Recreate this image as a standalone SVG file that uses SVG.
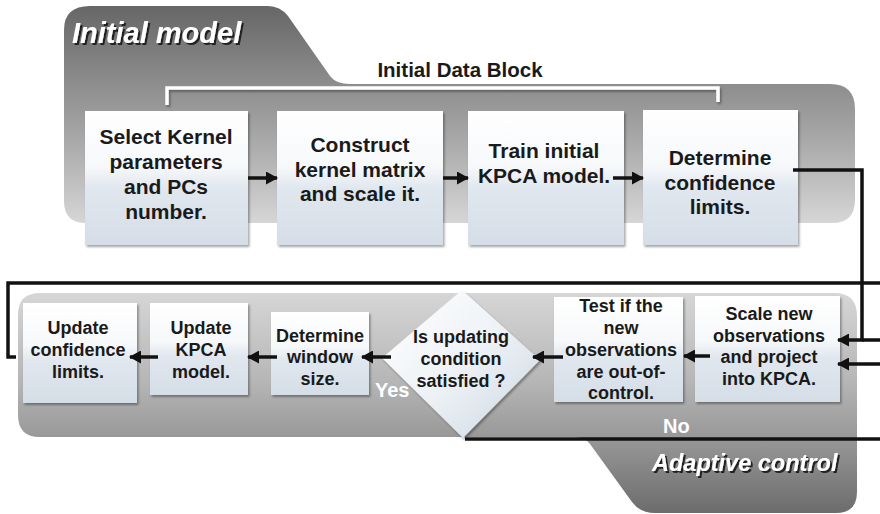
<svg xmlns="http://www.w3.org/2000/svg" width="880" height="514" viewBox="0 0 880 514">
<defs>
<linearGradient id="gTop" gradientUnits="userSpaceOnUse" x1="0" y1="6" x2="0" y2="223">
<stop offset="0" stop-color="#666666"/><stop offset="0.35" stop-color="#8c8c8c"/><stop offset="0.65" stop-color="#acacac"/><stop offset="1" stop-color="#d6d6d6"/>
</linearGradient>
<linearGradient id="gBot" gradientUnits="userSpaceOnUse" x1="0" y1="293" x2="0" y2="513">
<stop offset="0" stop-color="#d6d6d6"/><stop offset="0.4" stop-color="#b6b6b6"/><stop offset="0.65" stop-color="#999999"/><stop offset="1" stop-color="#6c6c6c"/>
</linearGradient>
<linearGradient id="gBox" x1="0" y1="0" x2="0" y2="1">
<stop offset="0" stop-color="#ffffff"/><stop offset="0.42" stop-color="#f6f8fa"/><stop offset="0.58" stop-color="#e0e7ef"/><stop offset="1" stop-color="#d5dde6"/>
</linearGradient>
<linearGradient id="gDia" x1="0" y1="0" x2="1" y2="1">
<stop offset="0" stop-color="#ffffff"/><stop offset="0.5" stop-color="#eef2f6"/><stop offset="1" stop-color="#cbd6e1"/>
</linearGradient>
<filter id="sh" x="-10%" y="-10%" width="130%" height="130%">
<feDropShadow dx="1.5" dy="2" stdDeviation="1" flood-color="#000" flood-opacity="0.35"/>
</filter>
<filter id="tsh" x="-10%" y="-20%" width="130%" height="150%">
<feDropShadow dx="2" dy="2" stdDeviation="0.6" flood-color="#1a1a1a" flood-opacity="0.95"/>
</filter>
<marker id="ah" markerWidth="12" markerHeight="13" refX="11" refY="6.5" orient="auto" markerUnits="userSpaceOnUse">
<path d="M0,0 L12,6.5 L0,13 z" fill="#111"/>
</marker>
</defs>
<style>
text{font-family:"Liberation Sans",Arial,Helvetica,sans-serif;font-weight:bold;fill:#1a1a1a;text-anchor:middle}
.t20{font-size:21px}
.t18{font-size:18px}
.wl{fill:#ffffff;font-size:20px;text-anchor:start}
.ttl{fill:#ffffff;font-style:italic;text-anchor:start}
.box{fill:url(#gBox);filter:url(#sh)}
.cn{fill:none;stroke:#111;stroke-width:3.5}
</style>

<g id="panel-initial">
<path d="M64,30 Q64,6 90,6 L268,6 Q280,6 288,16 L330,76 Q336,84 350,84 L830,84 Q855,84 855,109 L855,200 Q855,223 832,223 L86,223 Q64,223 64,201 Z" fill="url(#gTop)"/>
<text class="ttl" x="72" y="43" font-size="29" filter="url(#tsh)">Initial model</text>
<text x="460" y="77" font-size="20.5">Initial Data Block</text>
<path d="M167,105 V88 H718 V102" fill="none" stroke="#ffffff" stroke-width="3.5" filter="url(#sh)"/>
</g>

<g id="panel-adaptive">
<path d="M18,315 Q18,293 40,293 L834,293 Q857,293 857,316 L857,492 Q857,513 836,513 L655,513 Q640,513 632,502 L590,444 Q585,437 574,437 L40,437 Q18,437 18,415 Z" fill="url(#gBot)"/>
<text class="ttl" x="652" y="471" font-size="23.5" filter="url(#tsh)">Adaptive control</text>
</g>

<g id="n1"><rect class="box" x="85" y="111" width="163" height="134"/>
<text class="t20"><tspan x="166" y="144">Select Kernel</tspan><tspan x="166" y="169">parameters</tspan><tspan x="166" y="194">and PCs</tspan><tspan x="166" y="219">number.</tspan></text></g>

<g id="n2"><rect class="box" x="277" y="111" width="166" height="134"/>
<text class="t20"><tspan x="360" y="152">Construct</tspan><tspan x="360" y="177">kernel matrix</tspan><tspan x="360" y="201">and scale it.</tspan></text></g>

<g id="n3"><rect class="box" x="468" y="111" width="156" height="134"/>
<text class="t20"><tspan x="544" y="158">Train initial</tspan><tspan x="544" y="183">KPCA model.</tspan></text></g>

<g id="n4"><rect class="box" x="643" y="110" width="155" height="135"/>
<text class="t20"><tspan x="720" y="165">Determine</tspan><tspan x="720" y="190">confidence</tspan><tspan x="720" y="214">limits.</tspan></text></g>

<g id="n5"><rect class="box" x="695" y="296" width="145" height="106"/>
<text class="t18"><tspan x="769" y="320">Scale new</tspan><tspan x="769" y="342">observations</tspan><tspan x="769" y="363">and project</tspan><tspan x="769" y="385">into KPCA.</tspan></text></g>

<g id="n6"><rect class="box" x="554" y="297" width="129" height="105"/>
<text class="t18"><tspan x="621" y="312">Test if the</tspan><tspan x="621" y="334">new</tspan><tspan x="621" y="356">observations</tspan><tspan x="621" y="378">are out-of-</tspan><tspan x="621" y="399">control.</tspan></text></g>

<g id="n7"><path d="M462,290 L540,360 L463,438 L382,358 Z" fill="url(#gDia)" filter="url(#sh)"/>
<text class="t18"><tspan x="461" y="343">Is updating</tspan><tspan x="461" y="365">condition</tspan><tspan x="461" y="387">satisfied ?</tspan></text></g>

<g id="n8"><rect class="box" x="271" y="312" width="98" height="83"/>
<text class="t18"><tspan x="320" y="342">Determine</tspan><tspan x="320" y="363">window</tspan><tspan x="320" y="385">size.</tspan></text></g>

<g id="n9"><rect class="box" x="150" y="303" width="98" height="92"/>
<text class="t18"><tspan x="201" y="334">Update</tspan><tspan x="201" y="356">KPCA</tspan><tspan x="201" y="378">model.</tspan></text></g>

<g id="n10"><rect class="box" x="23" y="303" width="114" height="100"/>
<text class="t18"><tspan x="78" y="334">Update</tspan><tspan x="78" y="356">confidence</tspan><tspan x="78" y="378">limits.</tspan></text></g>

<g id="connectors">
<line class="cn" x1="248" y1="178" x2="277" y2="178" marker-end="url(#ah)"/>
<line class="cn" x1="443" y1="178" x2="468" y2="178" marker-end="url(#ah)"/>
<line class="cn" x1="613" y1="178" x2="643" y2="178" marker-end="url(#ah)"/>
<path class="cn" d="M793,170 H862 V340 H838" marker-end="url(#ah)"/>
<line class="cn" x1="862" y1="340" x2="880" y2="340"/>
<line class="cn" x1="880" y1="364" x2="838" y2="364" marker-end="url(#ah)"/>
<line class="cn" x1="710" y1="356" x2="684" y2="356" marker-end="url(#ah)"/>
<line class="cn" x1="563" y1="357" x2="533" y2="357" marker-end="url(#ah)"/>
<line class="cn" x1="391" y1="357" x2="362" y2="357" marker-end="url(#ah)"/>
<line class="cn" x1="277" y1="357" x2="248" y2="357" marker-end="url(#ah)"/>
<line class="cn" x1="158" y1="357" x2="130" y2="357" marker-end="url(#ah)"/>
<path class="cn" d="M16,357 H8 V283 H880"/>
<line class="cn" x1="465" y1="439" x2="880" y2="439"/>
<text class="wl" x="375" y="397">Yes</text>
<text class="wl" x="663" y="433">No</text>
</g>
</svg>
